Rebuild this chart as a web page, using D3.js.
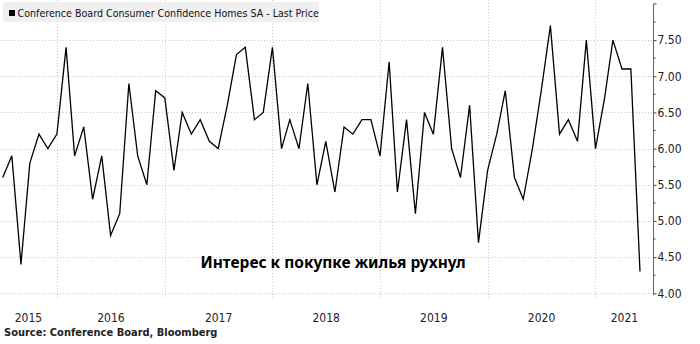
<!DOCTYPE html>
<html>
<head>
<meta charset="utf-8">
<script src="https://cdn.jsdelivr.net/npm/d3@7.9.0/dist/d3.min.js"></script>
<style>
  html, body { margin: 0; padding: 0; background: #fff; }
  svg { display: block; }
  .tick-label { font-family: "DejaVu Sans Condensed", "DejaVu Sans", sans-serif; font-size: 12px; fill: #222; }
</style>
</head>
<body>
<svg id="chart" width="700" height="344"></svg>
<script>
// monthly series, starting Jul 2015
const firstMonth = '2015-07-01';
const lastMonth = '2021-06-01';
const homes = [
  5.6, 5.9, 4.4, 5.8, 6.2, 6.0,
  6.2, 7.4, 5.9, 6.3, 5.3, 5.9, 4.8, 5.1, 6.9, 5.9, 5.5, 6.8,
  6.7, 5.7, 6.5, 6.2, 6.4, 6.1, 6.0, 6.6, 7.3, 7.4, 6.4, 6.5,
  7.4, 6.0, 6.4, 6.0, 6.9, 5.5, 6.1, 5.4, 6.3, 6.2, 6.4, 6.4,
  5.9, 7.2, 5.4, 6.4, 5.1, 6.5, 6.2, 7.4, 6.0, 5.6, 6.6, 4.7,
  5.7, 6.2, 6.8, 5.6, 5.3, 6.0, 6.8, 7.7, 6.2, 6.4, 6.1, 7.5,
  6.0, 6.7, 7.5, 7.1, 7.1, 4.3
];
const yearLabels = [2015, 2016, 2017, 2018, 2019, 2020, 2021];
const yMajorTicks = [4.0, 4.5, 5.0, 5.5, 6.0, 6.5, 7.0, 7.5];
const yMinorTicks = [4.25, 4.75, 5.25, 5.75, 6.25, 6.75, 7.25, 7.75];
const yTopTick = 8.0;

const legendText = 'Conference Board Consumer Confidence Homes SA - Last Price';
const sourceText = 'Source: Conference Board, Bloomberg';
const noteText = 'Интерес к покупке жилья рухнул';

const data = homes.map((v, i) => ({ date: d3.utcMonth.offset(new Date(firstMonth), i), value: v }));

const svg = d3.select('#chart');
const axisX = 653.5;
const plotLeft = 0;

const x = d3.scaleUtc()
  .domain([new Date(firstMonth), new Date(lastMonth)])
  .range([2.7, 640]);

const y = d3.scaleLinear()
  .domain([4, 8])
  .range([293.3, 3.9]);

// horizontal gridlines
svg.append('g')
  .selectAll('line')
  .data(yMajorTicks)
  .join('line')
  .attr('x1', plotLeft)
  .attr('x2', axisX)
  .attr('y1', d => Math.round(y(d)) + 0.5)
  .attr('y2', d => Math.round(y(d)) + 0.5)
  .attr('stroke', '#c8c8c8')
  .attr('stroke-dasharray', '1,2');

// year boundaries
const yearStarts = yearLabels.slice(1).map(yr => new Date(Date.UTC(yr, 0, 1)));
svg.append('g')
  .selectAll('line')
  .data(yearStarts)
  .join('line')
  .attr('x1', d => Math.round(x(d)) + 0.5)
  .attr('x2', d => Math.round(x(d)) + 0.5)
  .attr('y1', 0)
  .attr('y2', 298)
  .attr('stroke', '#c8c8c8')
  .attr('stroke-dasharray', '1,2');

// legend box
const legend = svg.append('g');
legend.append('rect')
  .attr('x', 3).attr('y', 2)
  .attr('width', 316).attr('height', 20)
  .attr('fill', '#eeeeee')
  .attr('fill-opacity', 0.9);
legend.append('rect')
  .attr('x', 9).attr('y', 10)
  .attr('width', 6).attr('height', 6)
  .attr('fill', '#000');
legend.append('text')
  .attr('x', 17.5).attr('y', 16.5)
  .attr('font-family', '"DejaVu Sans Condensed", "DejaVu Sans", sans-serif')
  .attr('font-size', 10.6)
  .attr('fill', '#111')
  .text(legendText);

// the line
const line = d3.line()
  .x(d => x(d.date))
  .y(d => y(d.value));

svg.append('path')
  .datum(data)
  .attr('d', line)
  .attr('fill', 'none')
  .attr('stroke', '#000')
  .attr('stroke-width', 1.3)
  .attr('stroke-linejoin', 'miter');

// right axis
const yAxis = d3.axisRight(y)
  .tickValues(yMajorTicks)
  .tickFormat(d3.format('.2f'))
  .tickSize(3)
  .tickPadding(1);

const axisG = svg.append('g')
  .attr('transform', `translate(${axisX},0)`)
  .call(yAxis);
axisG.select('.domain').remove();
axisG.selectAll('text').attr('class', 'tick-label');
axisG.selectAll('line').attr('stroke', '#444');

axisG.append('line')
  .attr('y1', y(yTopTick)).attr('y2', y(4) + 2)
  .attr('stroke', '#666');

axisG.selectAll('.minor')
  .data(yMinorTicks.concat([yTopTick]))
  .join('line')
  .attr('class', 'minor')
  .attr('x1', 0)
  .attr('x2', d => d === yTopTick ? 3 : 2)
  .attr('y1', d => y(d))
  .attr('y2', d => y(d))
  .attr('stroke', '#444');

// year labels, centred in each visible year
svg.append('g')
  .selectAll('text')
  .data(yearLabels)
  .join('text')
  .attr('class', 'tick-label')
  .attr('fill', '#333')
  .attr('text-anchor', 'middle')
  .attr('x', yr => {
    const a = Math.max(plotLeft, x(new Date(Date.UTC(yr, 0, 1))));
    const b = Math.min(axisX, x(new Date(Date.UTC(yr + 1, 0, 1))));
    return (a + b) / 2;
  })
  .attr('y', 322)
  .text(d => d);

// source
svg.append('text')
  .attr('x', 4).attr('y', 336)
  .attr('font-family', '"DejaVu Sans Condensed", "DejaVu Sans", sans-serif')
  .attr('font-weight', 'bold')
  .attr('font-size', 11)
  .attr('fill', '#222')
  .text(sourceText);

// annotation
svg.append('text')
  .attr('x', 333).attr('y', 268)
  .attr('text-anchor', 'middle')
  .attr('font-family', '"Noto Sans", "Open Sans", sans-serif')
  .attr('font-weight', 'bold')
  .attr('font-size', 15.5)
  .attr('fill', '#000')
  .text(noteText);
</script>
</body>
</html>
